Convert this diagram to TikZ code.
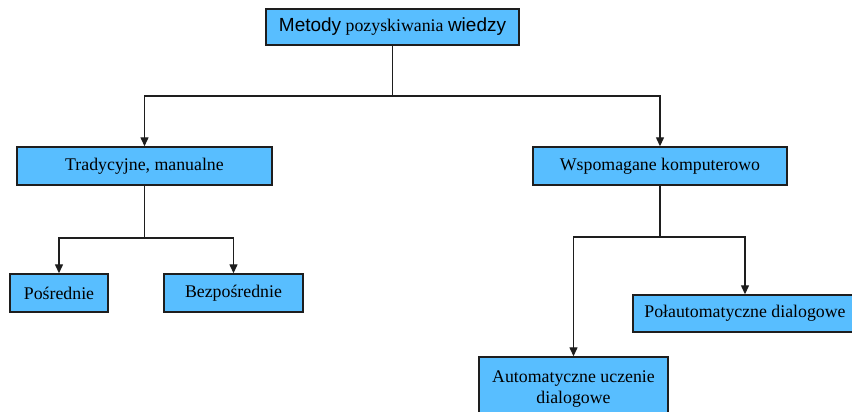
\documentclass[tikz,border=0pt]{standalone}
\usepackage{fontspec}
\setmainfont{Liberation Serif}
\setsansfont{Liberation Sans}
\usetikzlibrary{arrows.meta}
\definecolor{boxblue}{RGB}{88,190,255}
\definecolor{edge}{RGB}{30,30,30}
\tikzset{
  box/.style={draw=edge, line width=1.4pt, fill=boxblue, rectangle, inner sep=0pt, align=center,
    font=\fontsize{17.8}{21}\selectfont},
  link/.style={draw=edge, line width=1.3pt},
  arr/.style={link, -{Triangle[length=9pt,width=8pt]}}
}
\newcommand{\sansbig}[1]{{\fontsize{19}{21}\sffamily #1}}
\begin{document}
\begin{tikzpicture}[x=1pt,y=-1pt]
\useasboundingbox (0,0) rectangle (852,412);
\clip (0,0) rectangle (852,412);
\node[box, minimum width=253pt, minimum height=36pt] (top) at (392.5,27) {\sansbig{Metody} pozyskiwania \sansbig{wiedzy}};
\node[box, minimum width=255pt, minimum height=38pt] (trad) at (144.5,166) {Tradycyjne, manualne};
\node[box, minimum width=254pt, minimum height=38pt] (wsp) at (660,166) {Wspomagane komputerowo};
\node[box, minimum width=98pt, minimum height=38pt] (posr) at (59,293) {Pośrednie};
\node[box, minimum width=139pt, minimum height=38pt] (bezp) at (233.5,293) {Bezpośrednie};
\node[box, minimum width=224pt, minimum height=37pt] (pol) at (745,313.5) {Połautomatyczne dialogowe};
\node[box, minimum width=189pt, minimum height=64pt] (auto) at (573.5,389) {Automatyczne uczenie\\dialogowe};
\coordinate (j1) at (top.south |- 0,96);
\coordinate (j2) at (trad.south |- 0,238);
\coordinate (j3) at (wsp.south |- 0,237);
\draw[link] (top.south) -- (j1);
\draw[arr] (j1) -| (trad.north);
\draw[arr] (j1) -| (wsp.north);
\draw[link] (trad.south) -- (j2);
\draw[arr] (j2) -| (posr.north);
\draw[arr] (j2) -| (bezp.north);
\draw[link] (wsp.south) -- (j3);
\draw[arr] (j3) -| (auto.north);
\draw[arr] (j3) -| (pol.north);
\end{tikzpicture}
\end{document}
